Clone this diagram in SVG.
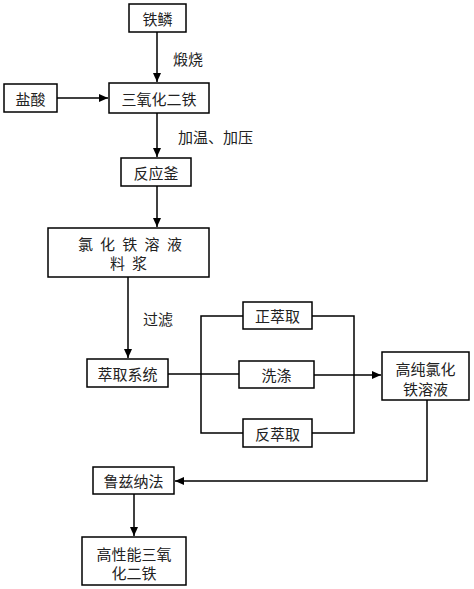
<svg xmlns="http://www.w3.org/2000/svg" width="474" height="589" viewBox="0 0 474 589">
<style>
rect.n{fill:#fff;stroke:#000;stroke-width:1.5}
text{font-family:"Noto Sans CJK SC","Noto Sans",sans-serif;font-size:15px;fill:#222;dominant-baseline:central}
.c{text-anchor:middle}
.e{fill:none;stroke:#000;stroke-width:1.5}
</style>
<defs>
<marker id="a" markerWidth="10" markerHeight="10" refX="9" refY="5" orient="auto" markerUnits="userSpaceOnUse">
<path d="M0,1 L9,5 L0,9 Z" fill="#000"/>
</marker>
</defs>
<rect width="474" height="589" fill="#fff"/>
<g id="connectors">
<path class="e" d="M157,32 V82" marker-end="url(#a)"/>
<path class="e" d="M57,98 H108" marker-end="url(#a)"/>
<path class="e" d="M157,113 V157" marker-end="url(#a)"/>
<path class="e" d="M157,186 V227" marker-end="url(#a)"/>
<path class="e" d="M128,277 V358" marker-end="url(#a)"/>
<path class="e" d="M168,374 H239"/>
<path class="e" d="M243,316 H201 V433 H243"/>
<path class="e" d="M312,316 H354 V433 H312"/>
<path class="e" d="M314,375 H381" marker-end="url(#a)"/>
<path class="e" d="M427,400 V481 H175" marker-end="url(#a)"/>
<path class="e" d="M134,494 V536" marker-end="url(#a)"/>
<text x="173" y="58">煅烧</text>
<text x="178" y="136">加温、加压</text>
<text x="143" y="318">过滤</text>
</g>
<g id="n1"><rect class="n" x="129" y="4" width="57" height="28"/><text class="c" x="157.5" y="18">铁鳞</text></g>
<g id="n2"><rect class="n" x="4" y="84" width="53" height="28"/><text class="c" x="30.5" y="98">盐酸</text></g>
<g id="n3"><rect class="n" x="109" y="83" width="100" height="30"/><text class="c" x="159" y="98">三氧化二铁</text></g>
<g id="n4"><rect class="n" x="121" y="158" width="70" height="28"/><text class="c" x="156" y="172">反应釜</text></g>
<g id="n5"><rect class="n" x="48" y="228" width="161" height="49"/>
<text class="c" x="85.5 96.6 107.6 118.8 129.8 141 152 163.2 174.5" y="243">氯 化 铁 溶 液</text>
<text class="c" x="117.5 128.5 139.5" y="262">料 浆</text></g>
<g id="n6"><rect class="n" x="87" y="359" width="81" height="28"/><text class="c" x="127.5" y="373">萃取系统</text></g>
<g id="n7"><rect class="n" x="243" y="302" width="69" height="27"/><text class="c" x="277.5" y="315.5">正萃取</text></g>
<g id="n8"><rect class="n" x="239" y="361" width="75" height="27"/><text class="c" x="276.5" y="374.5">洗涤</text></g>
<g id="n9"><rect class="n" x="243" y="419" width="69" height="28"/><text class="c" x="277.5" y="433">反萃取</text></g>
<g id="n10"><rect class="n" x="382" y="352" width="87" height="48"/><text class="c" x="425.5" y="368">高纯氯化</text><text class="c" x="425.5" y="388">铁溶液</text></g>
<g id="n11"><rect class="n" x="93" y="467" width="81" height="27"/><text class="c" x="133.5" y="480.5">鲁兹纳法</text></g>
<g id="n12"><rect class="n" x="82" y="537" width="104" height="48"/><text class="c" x="134" y="553">高性能三氧</text><text class="c" x="134" y="572">化二铁</text></g>
</svg>
